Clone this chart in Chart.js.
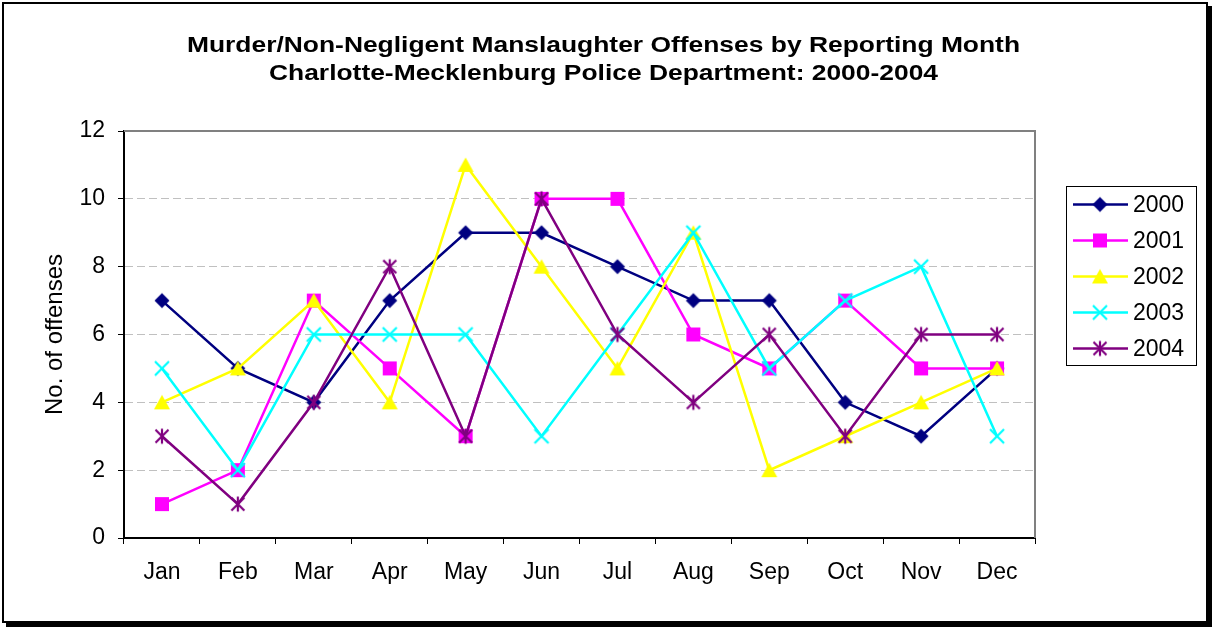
<!DOCTYPE html>
<html><head><meta charset="utf-8">
<script src="https://cdn.jsdelivr.net/npm/chart.js@4.4.0/dist/chart.umd.min.js"></script>
<style>html,body{margin:0;padding:0;background:#fff}#wrap{width:1214px;height:627px;position:relative}canvas{display:block}</style>
</head><body><div id="wrap"><canvas id="c" width="1214" height="627"></canvas></div>
<script>
const months = ['Jan','Feb','Mar','Apr','May','Jun','Jul','Aug','Sep','Oct','Nov','Dec'];
const s2000 = [7,5,4,7,9,9,8,7,7,4,3,5];
const s2001 = [1,2,7,5,3,10,10,6,5,7,5,5];
const s2002 = [4,5,7,4,11,8,5,9,2,3,4,5];
const s2003 = [5,2,6,6,6,3,6,9,5,7,8,3];
const s2004 = [3,1,4,8,3,10,6,4,6,3,6,6];
const seriesNames = ['2000','2001','2002','2003','2004'];
const seriesColors = ['#000080','#FF00FF','#FFFF00','#00FFFF','#800080'];
const yTickValues = [0,2,4,6,8,10,12];
const titleLines = ['Murder/Non-Negligent Manslaughter Offenses by Reporting Month','Charlotte-Mecklenburg Police Department: 2000-2004'];
const yTitle = 'No. of offenses';

const FONT = "'Liberation Sans', Arial, sans-serif";

function mk(size, draw){
  const c = document.createElement('canvas');
  c.width = size; c.height = size;
  const g = c.getContext('2d');
  draw(g, size/2);
  return c;
}
const markers = [
  mk(18,(g,m)=>{g.fillStyle='#000080';g.beginPath();g.moveTo(m,m-7.5);g.lineTo(m+7.5,m);g.lineTo(m,m+7.5);g.lineTo(m-7.5,m);g.closePath();g.fill();}),
  mk(18,(g,m)=>{g.fillStyle='#FF00FF';g.fillRect(m-7,m-7,14,14);}),
  mk(18,(g,m)=>{g.fillStyle='#FFFF00';g.beginPath();g.moveTo(m,m-7.5);g.lineTo(m+8,m+7);g.lineTo(m-8,m+7);g.closePath();g.fill();}),
  mk(18,(g,m)=>{g.strokeStyle='#00FFFF';g.lineWidth=2.2;g.beginPath();g.moveTo(m-7,m-7);g.lineTo(m+7,m+7);g.moveTo(m+7,m-7);g.lineTo(m-7,m+7);g.stroke();}),
  mk(18,(g,m)=>{g.strokeStyle='#800080';g.lineWidth=2.2;g.beginPath();g.moveTo(m,m-7.5);g.lineTo(m,m+7.5);g.moveTo(m-6.5,m-6.5);g.lineTo(m+6.5,m+6.5);g.moveTo(m+6.5,m-6.5);g.lineTo(m-6.5,m+6.5);g.stroke();})
];
const allSeries = [s2000,s2001,s2002,s2003,s2004];

const datasets = allSeries.map((d,i)=>({
  label: seriesNames[i],
  data: d,
  borderColor: seriesColors[i],
  backgroundColor: seriesColors[i],
  borderWidth: 2.5,
  tension: 0,
  pointStyle: markers[i],
  pointRadius: 8,
  order: 4 - i,
  yAxisID: 'y'
}));

const framePlugin = {
  id: 'frame',
  beforeDatasetsDraw(chart){
    const {ctx, chartArea:a} = chart;
    ctx.save();
    ctx.strokeStyle = '#808080'; ctx.lineWidth = 2;
    ctx.beginPath();
    ctx.moveTo(a.left, a.top); ctx.lineTo(a.right, a.top); ctx.lineTo(a.right, a.bottom);
    ctx.stroke();
    ctx.restore();
  },
  afterDraw(chart){
    const ctx = chart.ctx;
    ctx.save();
    // title
    ctx.fillStyle = '#000';
    ctx.font = 'bold 22px ' + FONT;
    ctx.textAlign = 'center'; ctx.textBaseline = 'middle';
    titleLines.forEach((t, i) => {
      ctx.save();
      ctx.translate(603.5, 46 + i * 28);
      ctx.scale(1.2, 1);
      ctx.fillText(t, 0, 0);
      ctx.restore();
    });
    // outer frame with shadow
    ctx.fillStyle = '#000';
    ctx.fillRect(1206, 6, 6, 620);
    ctx.fillRect(6, 621, 1206, 6);
    ctx.strokeStyle = '#000'; ctx.lineWidth = 2;
    ctx.strokeRect(3, 3, 1204, 619);
    // legend
    const lx = 1066.5, ly = 186.5, lw = 130, lh = 179;
    ctx.fillStyle = '#fff'; ctx.fillRect(lx, ly, lw, lh);
    ctx.strokeStyle = '#000'; ctx.lineWidth = 1; ctx.strokeRect(lx, ly, lw, lh);
    chart.data.datasets.forEach((ds, i) => {
      const y = 204.5 + i * 36;
      ctx.strokeStyle = ds.borderColor; ctx.lineWidth = 2.5;
      ctx.beginPath(); ctx.moveTo(1073, y); ctx.lineTo(1128, y); ctx.stroke();
      const m = ds.pointStyle;
      ctx.drawImage(m, 1100 - m.width/2, y - m.height/2);
      ctx.fillStyle = '#000'; ctx.font = '23px ' + FONT;
      ctx.textBaseline = 'middle'; ctx.textAlign = 'left';
      ctx.fillText(ds.label, 1133, y + 1);
    });
    ctx.restore();
  }
};

new Chart(document.getElementById('c'), {
  type: 'line',
  data: { labels: months, datasets },
  plugins: [framePlugin],
  options: {
    responsive: false,
    animation: false,
    devicePixelRatio: 1,
    layout: { padding: { left: 0, right: 7, top: 131, bottom: 0 } },
    plugins: {
      legend: { display: false },
      tooltip: { enabled: false },
      title: { display: false }
    },
    scales: {
      x: {
        type: 'category',
        offset: true,
        grid: { offset: true, drawOnChartArea: false, drawTicks: true, tickLength: 6, tickColor: '#000', tickWidth: 1 },
        border: { color: '#000', width: 2 },
        ticks: { color: '#000', font: { family: FONT, size: 23 }, padding: 15, maxRotation: 0, autoSkip: false },
        afterFit: s => { s.height = 89; }
      },
      y: {
        position: 'left',
        min: 0, max: 12,
        afterBuildTicks: s => { s.ticks = yTickValues.map(v => ({ value: v })); },
        grid: {
          color: c => (c.tick && (c.tick.value === 0 || c.tick.value === 12)) ? 'rgba(0,0,0,0)' : '#c0c0c0',
          lineWidth: 1, tickLength: 6, tickColor: '#000', tickWidth: 1, drawTicks: true
        },
        border: { color: '#000', width: 2, dash: [8, 4] },
        ticks: { color: '#000', font: { family: FONT, size: 23 }, padding: 13 },
        title: { display: true, text: yTitle, color: '#000', font: { family: FONT, size: 24 }, padding: { top: 41, bottom: 0 } },
        afterFit: s => { s.width = 124; }
      },
      yR: {
        position: 'right',
        display: true,
        grid: { display: false, drawTicks: false },
        border: { display: false },
        ticks: { display: false },
        afterFit: s => { s.width = 172; }
      }
    }
  }
});
</script>
</body></html>
